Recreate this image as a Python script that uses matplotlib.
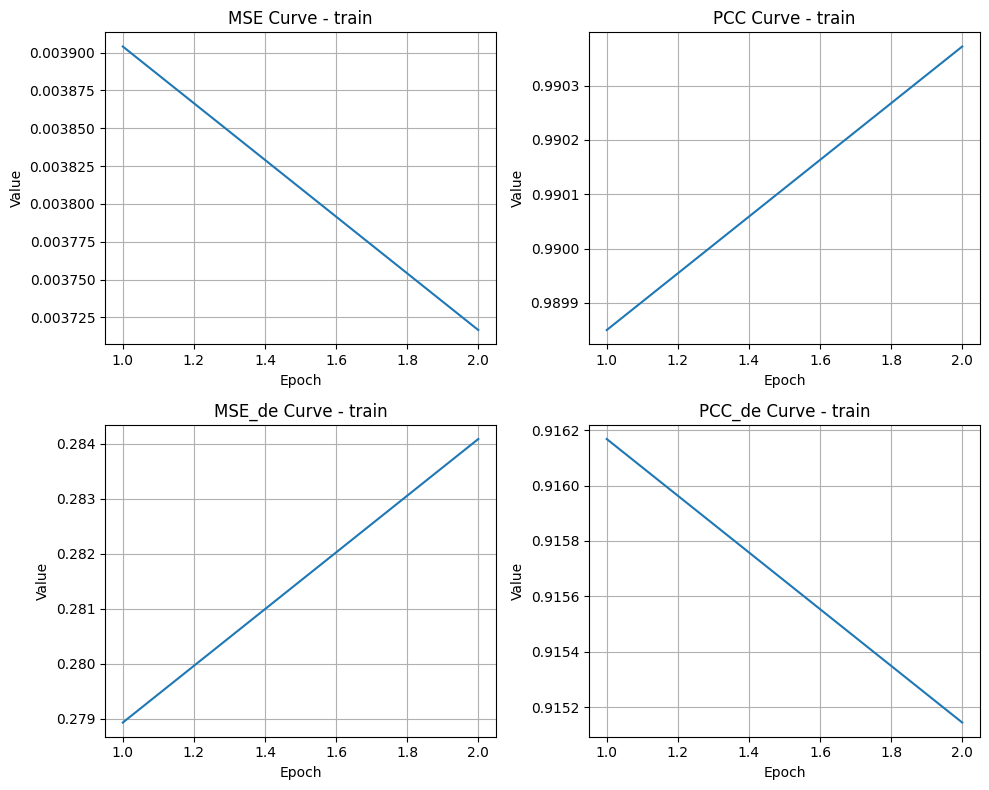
import matplotlib
matplotlib.use("Agg")
import matplotlib.pyplot as plt

epochs = [1, 2]
mse = [0.003904, 0.0037167]
pcc = [0.98985, 0.990372]
mse_de = [0.27893, 0.28409]
pcc_de = [0.916168, 0.915144]

titles = ["MSE Curve - train", "PCC Curve - train", "MSE_de Curve - train", "PCC_de Curve - train"]
series = [mse, pcc, mse_de, pcc_de]

fig, axes = plt.subplots(2, 2, figsize=(10, 8), dpi=100)
for ax, t, s in zip(axes.flat, titles, series):
    ax.plot(epochs, s)
    ax.set_title(t)
    ax.set_xlabel("Epoch")
    ax.set_ylabel("Value")
    ax.grid(True)
fig.tight_layout()
fig.savefig("out.png", dpi=100, bbox_inches="tight")
